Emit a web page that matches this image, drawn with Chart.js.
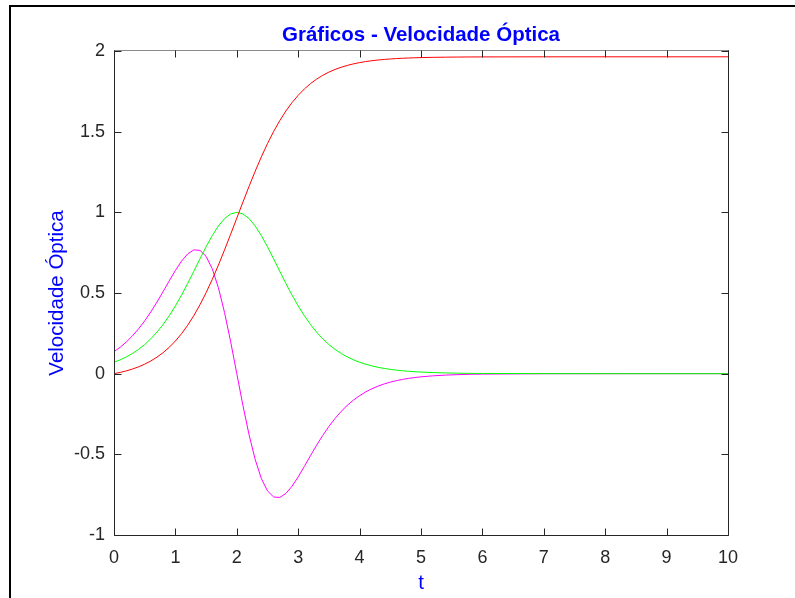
<!DOCTYPE html>
<html lang="pt">
<head>
<meta charset="utf-8">
<title>Gráficos - Velocidade Óptica</title>
<script src="https://cdn.jsdelivr.net/npm/chart.js@4.4.1/dist/chart.umd.min.js"></script>
<style>
  html, body { margin: 0; padding: 0; background: #fff; }
  canvas { display: block; }
</style>
</head>
<body>
<canvas id="grafico" width="795" height="598"></canvas>
<script>
// Amostras no tempo (passo 0.1 até t = 5, depois mais espaçadas)
const tempo = [
  0, 0.1, 0.2, 0.3, 0.4, 0.5, 0.6, 0.7, 0.8, 0.9,
  1, 1.1, 1.2, 1.3, 1.4, 1.5, 1.6, 1.7, 1.8, 1.9,
  2, 2.1, 2.2, 2.3, 2.4, 2.5, 2.6, 2.7, 2.8, 2.9,
  3, 3.1, 3.2, 3.3, 3.4, 3.5, 3.6, 3.7, 3.8, 3.9,
  4, 4.1, 4.2, 4.3, 4.4, 4.5, 4.6, 4.7, 4.8, 4.9,
  5, 5.2, 5.4, 5.6, 5.8, 6, 7, 8, 9, 10
]

// curva vermelha
const posicao = [
  0, 0.00779, 0.01722, 0.02862, 0.04236, 0.05888, 0.07868, 0.10231, 0.13038, 0.16353,
  0.20244, 0.24773, 0.29999, 0.35966, 0.42698, 0.50191, 0.58408, 0.67272, 0.76665, 0.86436,
  0.96403, 1.06370, 1.16141, 1.25534, 1.34398, 1.42615, 1.50108, 1.56840, 1.62807, 1.68033,
  1.72562, 1.76453, 1.79768, 1.82575, 1.84938, 1.86918, 1.88570, 1.89944, 1.91084, 1.92027,
  1.92806, 1.93448, 1.93977, 1.94413, 1.94770, 1.95064, 1.95306, 1.95504, 1.95666, 1.95799,
  1.95908, 1.96071, 1.96180, 1.96254, 1.96303, 1.96336, 1.96391, 1.96402, 1.96403, 1.96403
]

// curva verde
const velocidade = [
  0.07065, 0.08560, 0.10355, 0.12501, 0.15052, 0.18070, 0.21616, 0.25744, 0.30503, 0.35920,
  0.41998, 0.48691, 0.55905, 0.63474, 0.71158, 0.78645, 0.85564, 0.91514, 0.96104, 0.99007,
  1, 0.99007, 0.96104, 0.91514, 0.85564, 0.78645, 0.71158, 0.63474, 0.55905, 0.48691,
  0.41998, 0.35920, 0.30503, 0.25744, 0.21616, 0.18070, 0.15052, 0.12501, 0.10355, 0.08560,
  0.07065, 0.05823, 0.04793, 0.03940, 0.03239, 0.02660, 0.02182, 0.01790, 0.01469, 0.01204,
  0.00987, 0.00663, 0.00445, 0.00298, 0.00200, 0.00134, 0.00018, 0.00002, 0, 0
]

// curva magenta
const aceleracao = [
  0.13622, 0.16371, 0.19608, 0.23387, 0.27746, 0.32712, 0.38275, 0.44368, 0.50858, 0.57508,
  0.63970, 0.69755, 0.74246, 0.76724, 0.76431, 0.72687, 0.65020, 0.53318, 0.37938, 0.19736,
  0, -0.19736, -0.37938, -0.53318, -0.65020, -0.72687, -0.76431, -0.76724, -0.74246, -0.69755,
  -0.63970, -0.57508, -0.50858, -0.44368, -0.38275, -0.32712, -0.27746, -0.23387, -0.19608, -0.16371,
  -0.13622, -0.11302, -0.09353, -0.07723, -0.06372, -0.05249, -0.04316, -0.03548, -0.02916, -0.02393,
  -0.01964, -0.01322, -0.00888, -0.00595, -0.00400, -0.00268, -0.00036, -0.00005, -0.00001, 0
]

const xTicks = [0, 1, 2, 3, 4, 5, 6, 7, 8, 9, 10]
const xTickLabels = ['0', '1', '2', '3', '4', '5', '6', '7', '8', '9', '10']
const yTicks = [-1, -0.5, 0, 0.5, 1, 1.5, 2]
const yTickLabels = ['-1', '-0.5', '0', '0.5', '1', '1.5', '2']

const TITULO = 'Gráficos - Velocidade Óptica'
const FONTE = "'Liberation Sans', Arial, Helvetica, sans-serif"
const EIXO = '#262626'

const pontos = serie => tempo.map((t, i) => ({x: t, y: serie[i]}))

// caixa dos eixos com marcas para dentro, título centrado nos eixos e moldura da figura
const moldura = {
  id: 'moldura',
  afterDatasetsDraw(chart) {
    const {ctx, chartArea: a, scales: {x, y}} = chart
    const L = Math.round(a.left) + 0.5
    const R = Math.round(a.right) + 0.5
    const T = Math.round(a.top) - 0.5
    const B = Math.round(a.bottom) + 0.5
    const tick = 7

    ctx.save()
    ctx.lineWidth = 1

    // topo mais claro
    ctx.strokeStyle = '#8a8a8a'
    ctx.beginPath()
    ctx.moveTo(L, T)
    ctx.lineTo(R, T)
    ctx.stroke()

    ctx.strokeStyle = EIXO
    ctx.beginPath()
    ctx.moveTo(L, T)
    ctx.lineTo(L, B)
    ctx.lineTo(R, B)
    ctx.lineTo(R, T)
    ctx.stroke()

    ctx.beginPath()
    xTicks.forEach(v => {
      const px = Math.round(x.getPixelForValue(v)) + 0.5
      ctx.moveTo(px, B)
      ctx.lineTo(px, B - tick)
      ctx.moveTo(px, T)
      ctx.lineTo(px, T + tick)
    })
    yTicks.forEach(v => {
      const py = Math.round(y.getPixelForValue(v)) + 0.5
      ctx.moveTo(L, py)
      ctx.lineTo(L + tick, py)
      ctx.moveTo(R, py)
      ctx.lineTo(R - tick, py)
    })
    ctx.stroke()

    // título
    ctx.fillStyle = '#0000ff'
    ctx.font = 'bold 20.5px ' + FONTE
    ctx.textAlign = 'center'
    ctx.textBaseline = 'alphabetic'
    ctx.fillText(TITULO, (a.left + a.right) / 2, 41)

    // moldura externa (só topo e esquerda aparecem)
    ctx.fillStyle = '#000'
    ctx.fillRect(9, 5, chart.width - 9, 2)
    ctx.fillRect(9, 5, 2, chart.height - 5)
    ctx.restore()
  }
}

const ctx = document.getElementById('grafico')

new Chart(ctx, {
  type: 'line',
  data: {
    datasets: [
      {label: 'posição', data: pontos(posicao), borderColor: '#ff0000'},
      {label: 'velocidade', data: pontos(velocidade), borderColor: '#00ff00'},
      {label: 'aceleração', data: pontos(aceleracao), borderColor: '#ff00ff'}
    ]
  },
  options: {
    responsive: false,
    animation: false,
    events: [],
    layout: {
      padding: {left: 0, right: 67, top: 51, bottom: 0}
    },
    elements: {
      line: {borderWidth: 1, tension: 0, fill: false},
      point: {radius: 0}
    },
    plugins: {
      legend: {display: false},
      tooltip: {enabled: false},
      title: {display: false}
    },
    scales: {
      x: {
        type: 'linear',
        min: 0,
        max: 10,
        grid: {display: false, drawTicks: false},
        border: {display: false},
        afterBuildTicks: s => { s.ticks = xTicks.map(v => ({value: v})) },
        afterFit: s => { s.height = 63 },
        ticks: {
          color: EIXO,
          font: {family: FONTE, size: 18},
          padding: 12,
          maxRotation: 0,
          callback: v => xTickLabels[xTicks.indexOf(v)]
        },
        title: {
          display: true,
          text: 't',
          color: '#0000ff',
          font: {family: FONTE, size: 20.5},
          padding: {top: 0, bottom: 2}
        }
      },
      y: {
        type: 'linear',
        min: -1,
        max: 2,
        grid: {display: false, drawTicks: false},
        border: {display: false},
        afterBuildTicks: s => { s.ticks = yTicks.map(v => ({value: v})) },
        afterFit: s => { s.width = 114 },
        ticks: {
          color: EIXO,
          font: {family: FONTE, size: 18},
          padding: 9,
          callback: v => yTickLabels[yTicks.indexOf(v)]
        },
        title: {
          display: true,
          text: 'Velocidade Óptica',
          color: '#0000ff',
          font: {family: FONTE, size: 20.5},
          padding: {top: 45, bottom: 0}
        }
      }
    }
  },
  plugins: [moldura]
})
</script>
</body>
</html>
